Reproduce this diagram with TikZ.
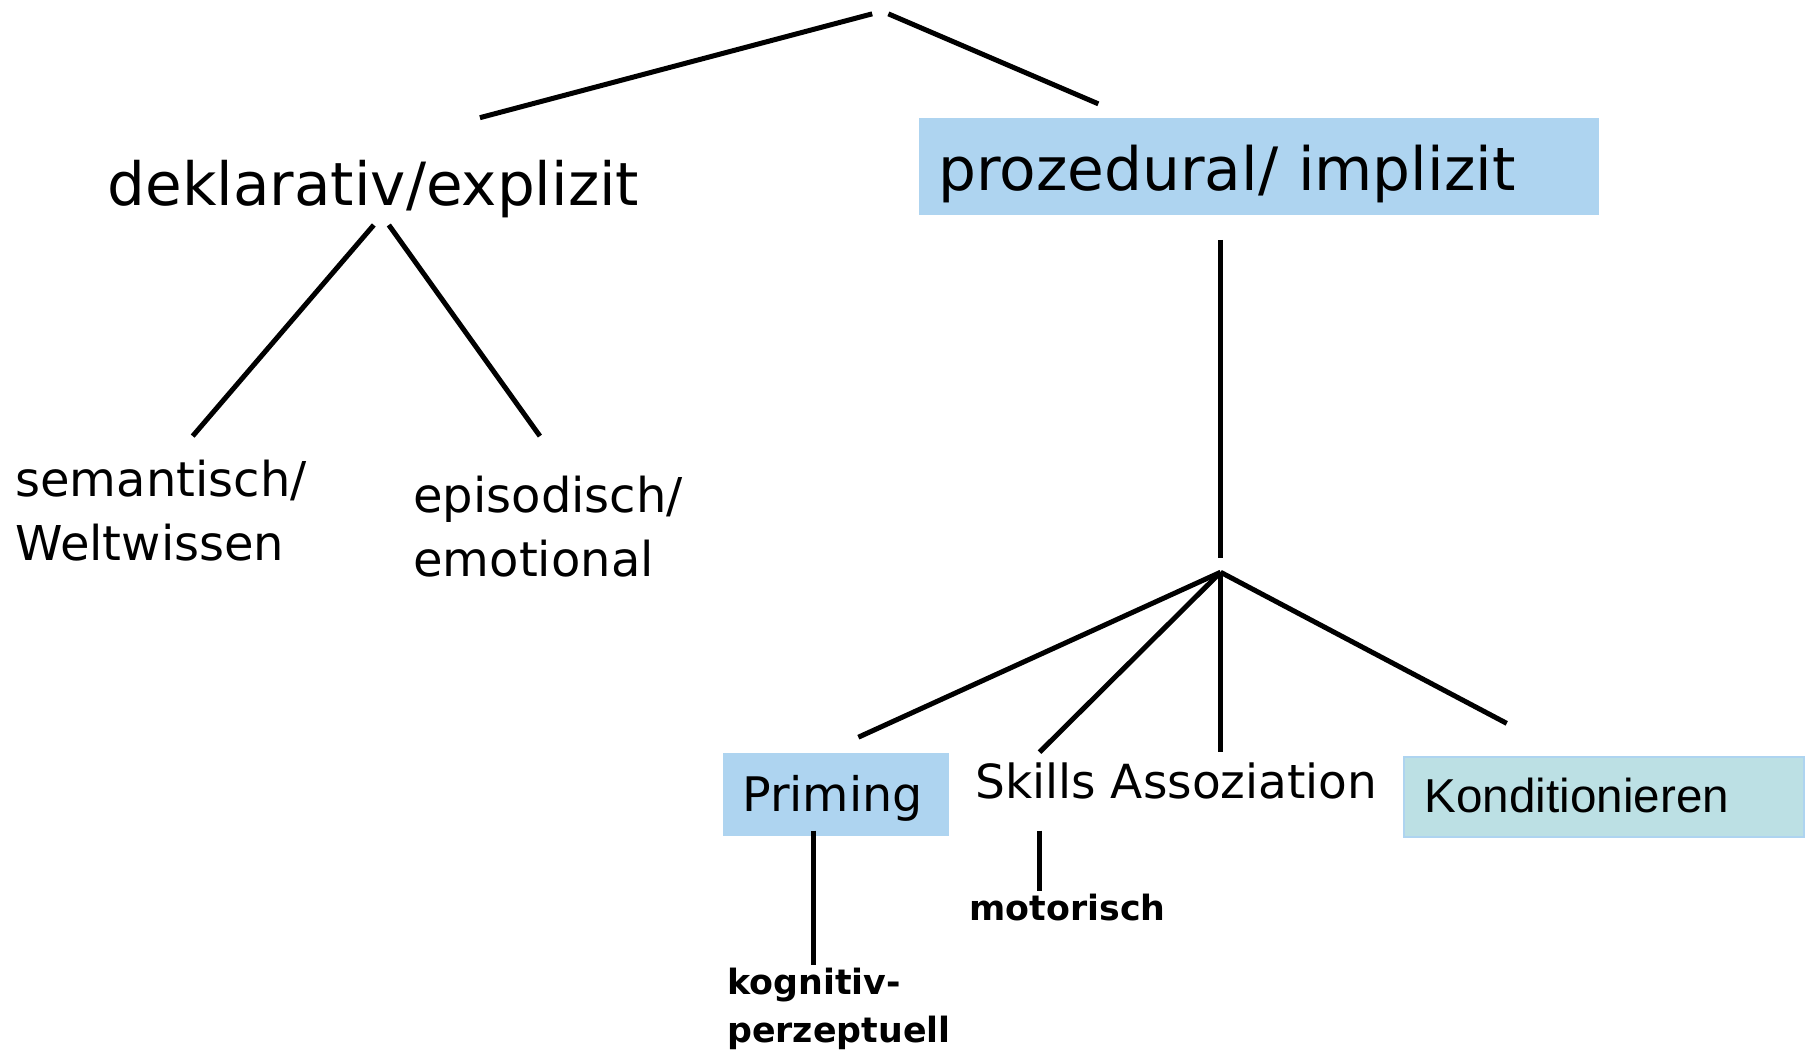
\documentclass[tikz,border=0pt]{standalone}
\usepackage{fontspec}
\setmainfont{DejaVu Sans}
\newfontfamily\arialfont{Liberation Sans}
\usepackage{tikz}
\definecolor{boxblue}{RGB}{174,212,240}
\definecolor{boxteal}{RGB}{188,224,228}
\tikzstyle{edge} = [draw,line width=2.5pt,-]
\tikzstyle{bigterm}=[inner sep=0pt, anchor=base west
,font=\fontsize{29.8}{36}\selectfont
]
\tikzstyle{term}=[inner sep=0pt, anchor=base west, align=left
,font=\fontsize{24}{32}\selectfont
]
\tikzstyle{leaf}=[inner sep=0pt, anchor=base west, align=left
,font=\bfseries\fontsize{17.4}{24.2}\selectfont
]
\tikzstyle{bluebox}=[fill=boxblue, anchor=north west, inner ysep=0pt, align=left]

\begin{document}
\begin{tikzpicture}[x=0.5769pt,y=-0.5769pt]
    \useasboundingbox (0,0) rectangle (1568,920);
    % First the terms
    \node[bigterm] (dekl) at (93,178.5) {deklarativ/explizit};
    \node[bluebox, inner xsep=9.8pt, text width=320.8pt, text height=36.3pt, text depth=12.1pt
        ,font=\fontsize{29.9}{36}\selectfont] (proz) at (796,102) {prozedural/ implizit};
    \node[term] (sem) at (13,486) {semantisch/\\Weltwissen};
    \node[term] (epi) at (358,500) {episodisch/\\emotional};
    \node[bluebox, inner xsep=9.8pt, text width=93.5pt, text height=29.4pt, text depth=12.1pt
        ,font=\fontsize{23.8}{30}\selectfont] (prim) at (626,652) {Priming};
    \node[term, font=\fontsize{23.5}{30}\selectfont] (skill) at (845,692) {Skills Assoziation};
    \node[bluebox, fill=boxteal, draw=boxblue, line width=1pt, inner xsep=10.4pt, text width=179.4pt
        , text height=27.7pt, text depth=12.7pt, font=\arialfont\fontsize{23.8}{30}\selectfont] (kond) at (1216,655) {Konditionieren};
    \node[leaf] (mot) at (840,798) {motorisch};
    \node[leaf] (kog) at (630,904) {kognitiv-\\perzeptuell};

    % Then the ends of the connectors
    \foreach \pos/\name in {{(756,12)/apexL}, {(770,12)/apexR}, {(416,102)/deklIn}, {(952,90)/prozIn},
        {(324,195)/deklOutL}, {(337,195)/deklOutR}, {(167,378)/semIn}, {(468,378)/epiIn},
        {(1058,208)/prozOut}, {(1058,484)/split}, {(1058,496)/fan},
        {(744,639)/primIn}, {(901,652)/skillIn}, {(1058,652)/assIn}, {(1306,627)/kondIn},
        {(705,720)/primOut}, {(705,836)/kogIn}, {(901,720)/skillOut}, {(901,772)/motIn}}
        \path \pos coordinate (\name);

    % Connect them
    \foreach \source/ \dest in {apexL/deklIn, apexR/prozIn, deklOutL/semIn, deklOutR/epiIn,
        prozOut/split, fan/primIn, fan/skillIn, fan/assIn, fan/kondIn, primOut/kogIn, skillOut/motIn}
        \path[edge] (\source) -- (\dest) ;

\end{tikzpicture}
\end{document}
